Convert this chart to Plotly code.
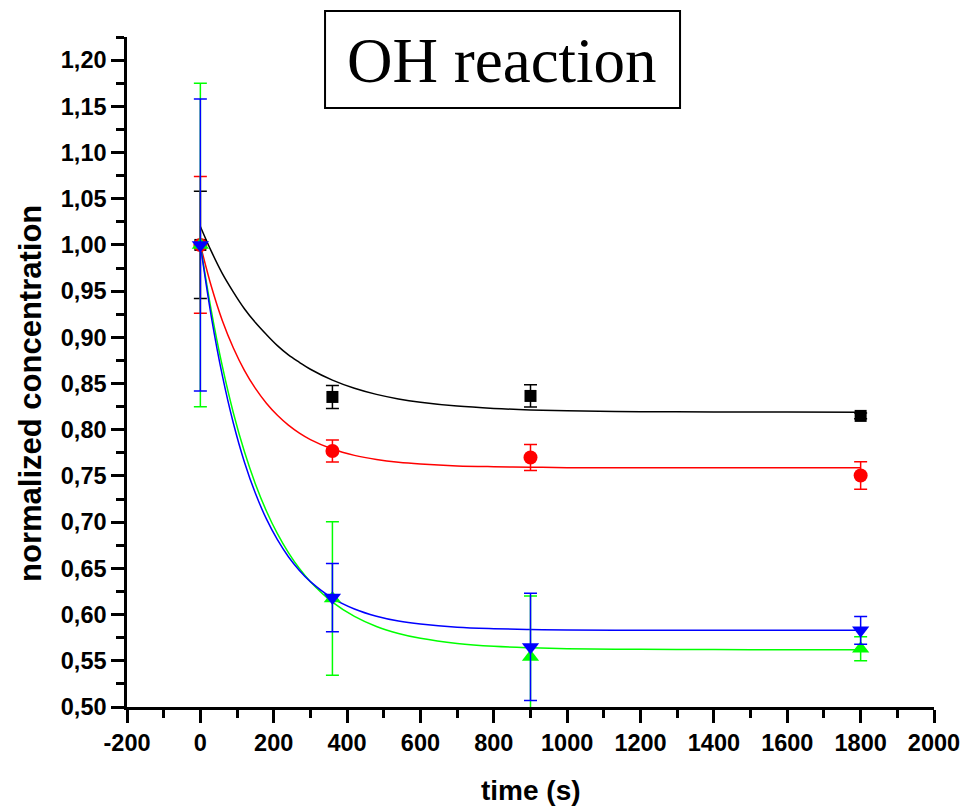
import plotly.graph_objects as go

# ---------------- data ----------------
t_meas = [0, 360, 900, 1800]

black_y = [1.000, 0.8355, 0.8366, 0.815]
black_err = [0.058, 0.0125, 0.012, 0.003]

red_y = [1.000, 0.777, 0.770, 0.7505]
red_err = [0.074, 0.012, 0.014, 0.015]

green_y = [1.000, 0.6174, 0.554, 0.563]
green_err = [0.175, 0.083, 0.066, 0.013]

blue_y = [1.000, 0.6184, 0.565, 0.583]
blue_err = [0.158, 0.037, 0.058, 0.015]

# fitted curves, values
t_fit = [0, 30, 60, 90, 120, 150, 180, 210, 240, 270, 300, 360, 420, 480,
         540, 600, 700, 800, 900, 1000, 1200, 1400, 1600, 1800]
black_fit = [1.020, 0.993, 0.969, 0.949, 0.931, 0.916, 0.903, 0.891, 0.881,
             0.873, 0.8655, 0.8537, 0.8449, 0.8383, 0.8334, 0.8298, 0.8256,
             0.8231, 0.8215, 0.8205, 0.8196, 0.8192, 0.8191, 0.819]
red_fit = [1.000, 0.955, 0.918, 0.8885, 0.8643, 0.8447, 0.8287, 0.8156, 0.805,
           0.7964, 0.7894, 0.7791, 0.7723, 0.7678, 0.7648, 0.7629, 0.7609,
           0.760, 0.7595, 0.759, 0.759, 0.759, 0.759, 0.759]
green_fit = [1.000, 0.9284, 0.8685, 0.8182, 0.7764, 0.7414, 0.7121, 0.6875,
             0.667, 0.6498, 0.6355, 0.6134, 0.598, 0.5871, 0.5796, 0.5743,
             0.5688, 0.5657, 0.5641, 0.5631, 0.5624, 0.5621, 0.562, 0.562]
blue_fit = [1.000, 0.922, 0.8586, 0.8071, 0.7652, 0.7312, 0.7035, 0.681,
            0.6626, 0.6478, 0.6357, 0.6178, 0.606, 0.5982, 0.593, 0.5897,
            0.5863, 0.5847, 0.5838, 0.5834, 0.5831, 0.583, 0.583, 0.583]

x_tickvals = [-200, 0, 200, 400, 600, 800, 1000, 1200, 1400, 1600, 1800, 2000]
x_ticktext = ["-200", "0", "200", "400", "600", "800", "1000", "1200", "1400",
              "1600", "1800", "2000"]
y_tickvals = [0.50, 0.55, 0.60, 0.65, 0.70, 0.75, 0.80, 0.85, 0.90, 0.95,
              1.00, 1.05, 1.10, 1.15, 1.20]
y_ticktext = ["0,50", "0,55", "0,60", "0,65", "0,70", "0,75", "0,80", "0,85",
              "0,90", "0,95", "1,00", "1,05", "1,10", "1,15", "1,20"]

title_text = "OH reaction"
x_title = "time (s)"
y_title = "normalized concentration"

# ---------------- figure ----------------
fig = go.Figure()

fits = [(black_fit, "#000000"), (red_fit, "#ff0000"),
        (green_fit, "#00ff00"), (blue_fit, "#0000ff")]
for yv, col in fits:
    fig.add_trace(go.Scatter(x=t_fit, y=yv, mode="lines",
                             line=dict(color=col, width=1.5, shape="spline"),
                             hoverinfo="skip"))

series = [(black_y, black_err, "#000000", "square", 12),
          (red_y, red_err, "#ff0000", "circle", 14),
          (green_y, green_err, "#00ff00", "triangle-up", 15),
          (blue_y, blue_err, "#0000ff", "triangle-down", 15)]
for yv, ev, col, sym, sz in series:
    fig.add_trace(go.Scatter(
        x=t_meas, y=yv, mode="markers",
        marker=dict(symbol=sym, size=sz, color=col, line=dict(width=0)),
        error_y=dict(type="data", array=ev, visible=True, color=col,
                     thickness=1.5, width=6.5),
        cliponaxis=True))

font_sans = "Liberation Sans, Arial, sans-serif"

fig.update_layout(
    width=964, height=807,
    margin=dict(l=127, r=30, t=37, b=100, autoexpand=False),
    paper_bgcolor="white", plot_bgcolor="white",
    showlegend=False,
    xaxis=dict(range=[-200, 2000], showgrid=False, zeroline=False,
               automargin=False,
               showline=True, linecolor="black", linewidth=2.5,
               ticks="outside", ticklen=13, tickwidth=2.5, tickcolor="black",
               tickvals=x_tickvals, ticktext=x_ticktext,
               tickfont=dict(family=font_sans, size=23.5, color="black",
                             weight="bold"),
               minor=dict(ticks="outside", ticklen=8, tickwidth=2.5,
                          tickcolor="black", dtick=100, tick0=0,
                          showgrid=False)),
    yaxis=dict(range=[0.5, 1.225], showgrid=False, zeroline=False,
               automargin=False,
               showline=True, linecolor="black", linewidth=2.5,
               ticks="outside", ticklen=13, tickwidth=2.5, tickcolor="black",
               tickvals=y_tickvals, ticktext=y_ticktext,
               tickfont=dict(family=font_sans, size=23.5, color="black",
                             weight="bold"),
               minor=dict(ticks="outside", ticklen=8, tickwidth=2.5,
                          tickcolor="black", dtick=0.025, tick0=0.5,
                          showgrid=False)),
)

fig.add_shape(type="rect", xref="paper", yref="paper",
              x0=0.2454, x1=0.6853, y0=0.894, y1=1.0388,
              line=dict(color="black", width=2), fillcolor="white")

fig.add_annotation(text=title_text, xref="paper", yref="paper",
                   x=0.4653, y=0.9642, xanchor="center", yanchor="middle",
                   showarrow=False,
                   font=dict(family="Liberation Serif, Times New Roman, serif",
                             size=63, color="black"))

fig.add_annotation(text=x_title, xref="paper", yref="paper",
                   x=0.5006, y=-0.1239, xanchor="center", yanchor="middle",
                   showarrow=False,
                   font=dict(family=font_sans, size=28, color="black",
                             weight="bold"))

fig.add_annotation(text=y_title, xref="paper", yref="paper",
                   x=-0.119, y=0.4687, xanchor="center", yanchor="middle",
                   textangle=-90, showarrow=False,
                   font=dict(family=font_sans, size=31, color="black",
                             weight="bold"))

fig.write_html("out.html")
